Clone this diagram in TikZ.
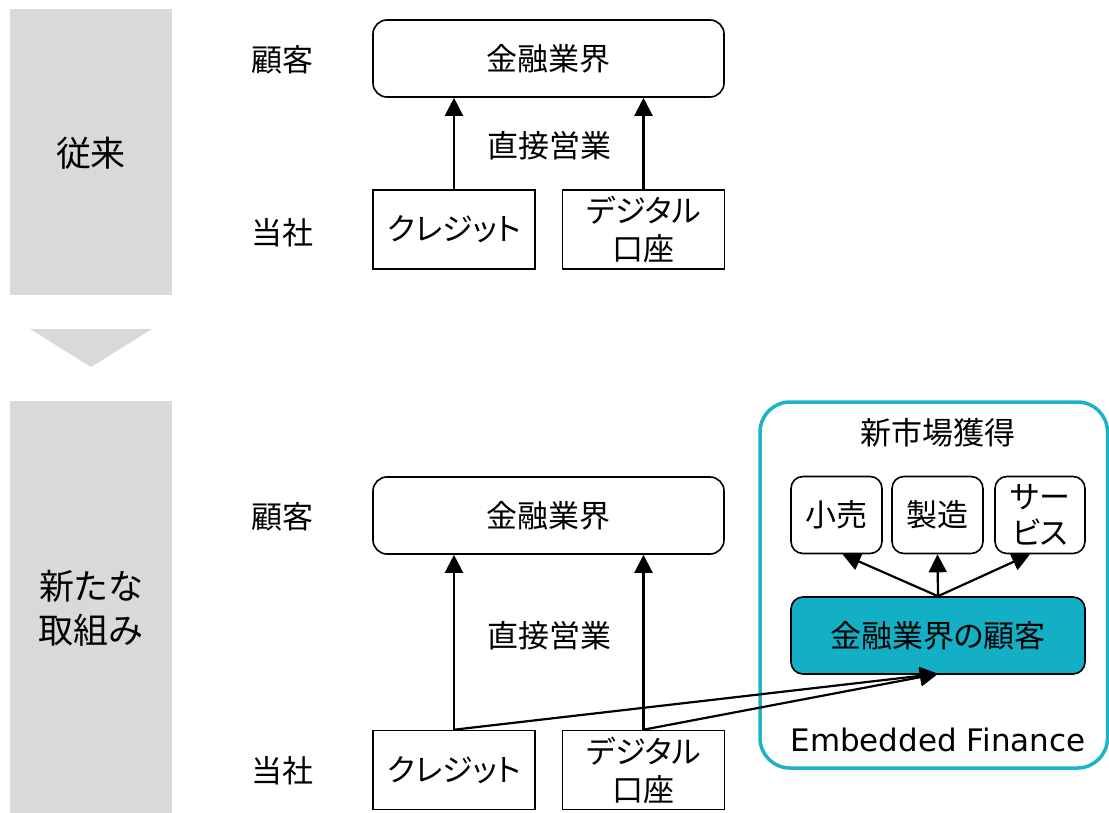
\documentclass[tikz,border=0pt]{standalone}
\usepackage{fontspec}
\setmainfont{Noto Sans CJK JP}[RawFeature=+palt]
\newfontfamily\latinfont{DejaVu Sans}
\usetikzlibrary{arrows.meta,calc}
\definecolor{greyband}{HTML}{D9D9D9}
\definecolor{tealfill}{HTML}{13B0C5}
\definecolor{tealline}{HTML}{1DB3C7}
\tikzset{
  txt/.style={font=\fontsize{31}{38}\selectfont, inner sep=0pt, align=center},
  bigtxt/.style={font=\fontsize{35}{44}\selectfont, inner sep=0pt, align=center},
  rbox/.style={draw=black, line width=1.6pt, rounded corners=14pt, txt, minimum width=351pt, minimum height=77pt},
  sbox/.style={draw=black, line width=1.6pt, txt, minimum width=162pt, minimum height=79pt},
  mbox/.style={draw=black, line width=1.6pt, rounded corners=12pt, txt, minimum width=91pt, minimum height=77pt},
  tbox/.style={draw=black, fill=tealfill, line width=1.6pt, rounded corners=12pt, txt, minimum width=294pt, minimum height=77pt},
  arr/.style={line width=2.2pt, -{Triangle[length=18pt,width=18pt]}},
  ln/.style={line width=2.2pt}
}
\begin{document}
\begin{tikzpicture}[x=1pt,y=-1pt]
\useasboundingbox (0,0) rectangle (1109,813);
% left bands
\fill[greyband] (10,9) rectangle (172,295);
\fill[greyband] (30,329) -- (152,329) -- (91,367) -- cycle;
\fill[greyband] (10,401) rectangle (172,813);
\node[bigtxt] (juurai) at (91,153) {従来};
\node[bigtxt] (arata) at (91,608) {新たな\\取組み};
% top section
\node[txt] (kokyaku1) at (282,60) {顧客};
\node[txt] (tousha1) at (282,233) {当社};
\node[rbox] (fin1) at (548.5,58.5) {金融業界};
\node[sbox] (cred1) at (454,229.5) {クレジット};
\node[sbox] (dig1) at (643.5,229.5) {デジタル\\口座};
\node[txt] (direct1) at (549,146) {直接営業};
\draw[arr] (cred1.north) -- (cred1.north |- fin1.south);
\draw[arr] (dig1.north) -- (dig1.north |- fin1.south);
% bottom section
\node[txt] (kokyaku2) at (282,517) {顧客};
\node[txt] (tousha2) at (282,771) {当社};
\node[rbox] (fin2) at (548.5,515.5) {金融業界};
\node[sbox] (cred2) at (454,770) {クレジット};
\node[sbox] (dig2) at (643.5,770) {デジタル\\口座};
\node[txt] (direct2) at (549,636) {直接営業};
\draw[arr] (cred2.north) -- (cred2.north |- fin2.south);
\draw[arr] (dig2.north) -- (dig2.north |- fin2.south);
% embedded finance frame
\draw[tealline, line width=3.5pt, rounded corners=30pt] (760,402) rectangle (1107.5,768);
\node[txt] (shinshijo) at (938,433) {新市場獲得};
\node[mbox] (kouri) at (836.5,515) {小売};
\node[mbox] (seizou) at (937.5,515) {製造};
\node[mbox, minimum width=90pt, font=\fontsize{31}{36}\selectfont] (service) at (1040,515) {サー\\ビス};
\node[tbox] (fincust) at (938,635.5) {金融業界の顧客};
\node[txt, font=\latinfont\fontsize{31}{36}\selectfont] (ef) at (938,740) {Embedded Finance};
\coordinate (tip) at ($(fincust.south)+(0,-1)$);
\draw[arr] (fincust.north) -- ($(kouri.south)+(6,0)$);
\draw[arr] (fincust.north) -- (seizou.south);
\draw[arr] (fincust.north) -- ($(service.south)+(-10,0)$);
\draw[arr] (cred2.north) -- (tip);
\draw[arr] (dig2.north) -- (tip);
\end{tikzpicture}
\end{document}
